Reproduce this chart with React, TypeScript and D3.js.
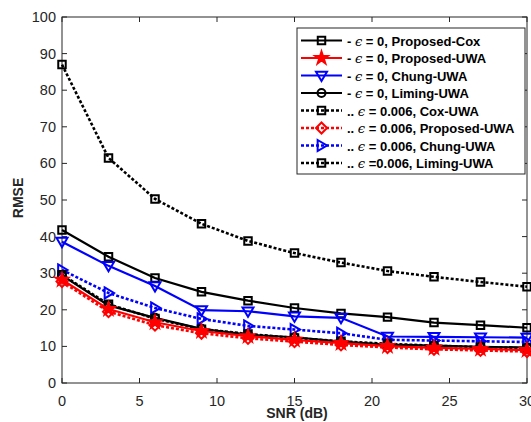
import React from "react";
import * as d3 from "d3";

const snr = [0, 3, 6, 9, 12, 15, 18, 21, 24, 27, 30];
const proposedCox0 = [41.8, 34.5, 28.7, 24.9, 22.5, 20.5, 19, 18, 16.5, 15.8, 15.1];
const proposedUWA0 = [28.2, 20.2, 16.6, 14.2, 12.8, 11.8, 10.9, 10.1, 9.6, 9.3, 9.0];
const chung0 = [38.6, 32, 26.5, 19.9, 19.6, 18.2, 17.8, 12.7, 12.6, 12.5, 12.4];
const liming0 = [29.4, 21.2, 17.8, 14.8, 13.2, 12.5, 11.3, 10.5, 10.2, 9.9, 9.7];
const coxUWA006 = [87, 61.5, 50.3, 43.5, 38.8, 35.5, 32.9, 30.6, 29, 27.6, 26.3];
const proposedUWA006 = [27.7, 19.5, 15.8, 13.6, 12.2, 11.3, 10.4, 9.7, 9.2, 8.9, 8.6];
const chung006 = [30.9, 24.6, 20.5, 17.5, 15.6, 14.6, 13.6, 11.8, 11.6, 11.4, 11.2];
const liming006 = [29.6, 21.5, 17.6, 14.7, 13.4, 12.3, 11.4, 10.7, 10.2, 9.8, 9.5];

const xTicks = [0, 5, 10, 15, 20, 25, 30];
const yTicks = [0, 10, 20, 30, 40, 50, 60, 70, 80, 90, 100];

type Marker = "square" | "star" | "down" | "circle" | "diamond" | "right";
interface Series {
  label: string;
  values: number[];
  color: string;
  dotted: boolean;
  marker: Marker;
}

const series: Series[] = [
  { label: "- \u03f5 = 0, Proposed-Cox", values: proposedCox0, color: "#000000", dotted: false, marker: "square" },
  { label: "- \u03f5 = 0, Proposed-UWA", values: proposedUWA0, color: "#ff0000", dotted: false, marker: "star" },
  { label: "- \u03f5 = 0, Chung-UWA", values: chung0, color: "#0000ff", dotted: false, marker: "down" },
  { label: "- \u03f5 = 0, Liming-UWA", values: liming0, color: "#000000", dotted: false, marker: "circle" },
  { label: ".. \u03f5 = 0.006, Cox-UWA", values: coxUWA006, color: "#000000", dotted: true, marker: "square" },
  { label: ".. \u03f5 = 0.006, Proposed-UWA", values: proposedUWA006, color: "#ff0000", dotted: true, marker: "diamond" },
  { label: ".. \u03f5 = 0.006, Chung-UWA", values: chung006, color: "#0000ff", dotted: true, marker: "right" },
  { label: ".. \u03f5 =0.006, Liming-UWA", values: liming006, color: "#000000", dotted: true, marker: "square" },
];

const W = 531;
const H = 422;
const L = 62, R = 527, T = 17, B = 383;

function markerPath(m: Marker): string {
  switch (m) {
    case "square": return d3.symbol(d3.symbolSquare, 56)()!;
    case "circle": return d3.symbol(d3.symbolCircle, 50)()!;
    case "star": return d3.symbol(d3.symbolStar, 48)()!;
    case "diamond": {
      const s = 5.5;
      return `M0,${-s}L${s},0L0,${s}L${-s},0Z`;
    }
    case "down": {
      const s = 5.5;
      return `M${-s},${-s * 0.7}L${s},${-s * 0.7}L0,${s}Z`;
    }
    case "right": {
      const s = 5.5;
      return `M${-s * 0.7},${-s}L${s},0L${-s * 0.7},${s}Z`;
    }
  }
}

function MarkerShape({ m, x, y, color }: { m: Marker; x: number; y: number; color: string }) {
  const filled = m === "star";
  return (
    <path
      d={markerPath(m)}
      transform={`translate(${x},${y})`}
      fill={filled ? color : "none"}
      stroke={color}
      strokeWidth={2}
    />
  );
}

export default function App() {
  const x = d3.scaleLinear().domain([0, 30]).range([L, R]);
  const y = d3.scaleLinear().domain([0, 100]).range([B, T]);
  const line = d3.line<number>().x((_, i) => x(snr[i])).y((d) => y(d));
  const font = "Arial, 'Liberation Sans', Helvetica, sans-serif";
  const tickColor = "#262626";

  const legX = 297, legY = 28, legW = 228, legH = 146;
  const rowH = 17.5;
  const row0 = 40.5;

  const drawOrder = [4, 0, 2, 6, 3, 7, 1, 5];

  return (
    <svg width={W} height={H} style={{ position: "absolute", left: 0, top: 0, background: "#fff" }} fontFamily={font}>
      <rect x={0} y={0} width={W} height={H} fill="#ffffff" />
      <rect x={L} y={T} width={R - L} height={B - T} fill="none" stroke={tickColor} strokeWidth={1} />
      {xTicks.map((t) => (
        <g key={"x" + t}>
          <line x1={x(t)} x2={x(t)} y1={B} y2={B - 5} stroke={tickColor} />
          <line x1={x(t)} x2={x(t)} y1={T} y2={T + 5} stroke={tickColor} />
          <text x={x(t)} y={405.5} fontSize={14.5} textAnchor="middle" fill={tickColor}>{t}</text>
        </g>
      ))}
      {yTicks.map((t) => (
        <g key={"y" + t}>
          <line x1={L} x2={L + 5} y1={y(t)} y2={y(t)} stroke={tickColor} />
          <line x1={R} x2={R - 5} y1={y(t)} y2={y(t)} stroke={tickColor} />
          <text x={56} y={y(t) + 5} fontSize={14.5} textAnchor="end" fill={tickColor}>{t}</text>
        </g>
      ))}
      <text x={297} y={418} fontSize={14} fontWeight="bold" textAnchor="middle" fill={tickColor}>SNR (dB)</text>
      <text transform={`translate(23,198) rotate(-90)`} fontSize={14} fontWeight="bold" textAnchor="middle" fill={tickColor}>RMSE</text>

      <g>
        {drawOrder.map((si) => {
          const s = series[si];
          return (
            <g key={"s" + si}>
              <path
                d={line(s.values)!}
                fill="none"
                stroke={s.color}
                strokeWidth={s.dotted ? 2.6 : 2.2}
                strokeDasharray={s.dotted ? "3,2" : undefined}
              />
              {s.values.map((v, i) => (
                <MarkerShape key={i} m={s.marker} x={x(snr[i])} y={y(v)} color={s.color} />
              ))}
            </g>
          );
        })}
      </g>

      <rect x={legX} y={legY} width={legW} height={legH} fill="#ffffff" stroke={tickColor} strokeWidth={1} />
      {series.map((s, i) => {
        const cy = row0 + i * rowH;
        const parts = s.label.split("\u03f5");
        return (
          <g key={"l" + i}>
            <line x1={301} x2={342} y1={cy} y2={cy} stroke={s.color} strokeWidth={s.dotted ? 2.6 : 2.2} strokeDasharray={s.dotted ? "3,2" : undefined} />
            <MarkerShape m={s.marker} x={321.5} y={cy} color={s.color} />
            <text x={347} y={cy + 5} fontSize={13} fill="#000" fontWeight="bold">
              {parts[0]}
              <tspan fontWeight="normal" fontStyle="italic" fontFamily="'DejaVu Serif', serif">{"\u03f5"}</tspan>
              {parts[1]}
            </text>
          </g>
        );
      })}
    </svg>
  );
}
